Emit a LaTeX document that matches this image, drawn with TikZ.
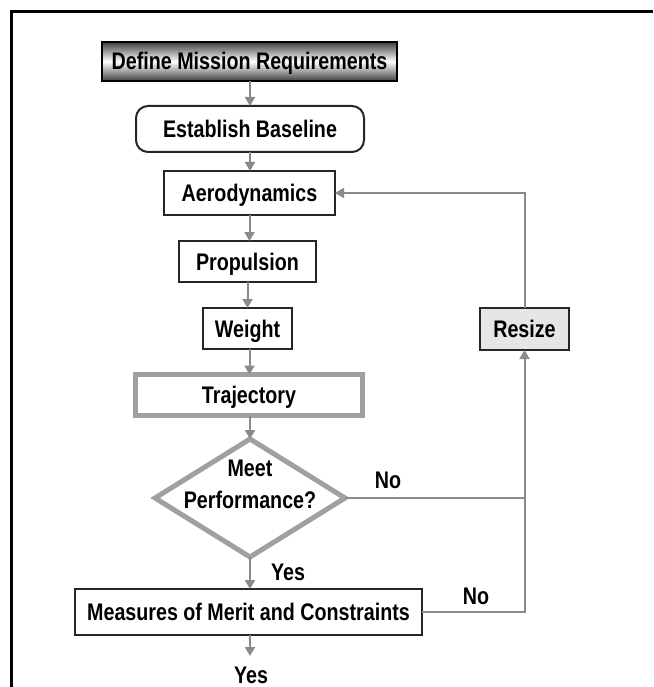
\documentclass[tikz,border=0pt]{standalone}
\usepackage{fontspec}
\setmainfont{Liberation Sans}[FakeStretch=0.82]
\usetikzlibrary{arrows.meta,shapes.geometric}
\definecolor{arrowgray}{HTML}{8A8A8A}
\definecolor{thickgray}{HTML}{A0A0A0}
\definecolor{resizefill}{HTML}{E6E6E6}
\begin{document}
\begin{tikzpicture}[x=1pt,y=-1pt,
  every node/.style={font=\fontsize{24pt}{28pt}\selectfont\bfseries, inner sep=0pt, outer sep=0pt},
  flowbox/.style={draw=black!85, line width=2pt, fill=white, text height=17pt, text depth=0pt},
  thickbox/.style={draw=thickgray, line width=5pt, fill=white, text height=17pt, text depth=0pt},
  decision/.style={diamond, draw=thickgray, line width=5pt, fill=white},
  flowarrow/.style={draw=arrowgray, line width=2pt, -{Triangle[width=10pt,length=9pt]}},
  flowline/.style={draw=arrowgray, line width=2pt},
  lbl/.style={anchor=base}
]
\useasboundingbox (0,0) rectangle (653,687);
% frame
\draw[line width=3pt, black] (11,687) -- (11,11.5) -- (653,11.5);

\node[flowbox, draw=black, top color=black!75, bottom color=black!75, middle color=white,
      minimum width=295pt, minimum height=39pt] (def) at (249.5,61.5) {Define Mission Requirements};
\node[flowbox, rounded corners=12pt, minimum width=228pt, minimum height=46pt] (est) at (250,129) {Establish Baseline};
\node[flowbox, minimum width=171pt, minimum height=44pt] (aero) at (249.5,193) {Aerodynamics};
\node[flowbox, minimum width=137pt, minimum height=41pt] (prop) at (247.5,261.5) {Propulsion};
\node[flowbox, minimum width=89pt, minimum height=41pt] (weight) at (247.5,328.5) {Weight};
\node[thickbox, minimum width=227pt, minimum height=41pt] (traj) at (249,395) {Trajectory};
\node[decision, minimum width=190pt, minimum height=118pt] (dia) at (250,498)
  {\smash{\makebox[0pt]{\raisebox{-10pt}{\begin{tabular}[b]{@{}c@{}}Meet\\[4pt]Performance?\end{tabular}}}}};
\node[flowbox, minimum width=347pt, minimum height=46pt] (meas) at (248.5,612) {Measures of Merit and Constraints};
\node[flowbox, fill=resizefill, minimum width=89pt, minimum height=42pt] (resize) at (524.5,329) {Resize};

\coordinate (endpt) at (250,656);

\draw[flowarrow] (def.south -| est.north) -- (est.north);
\draw[flowarrow] (est.south) -- (est.south |- aero.north);
\draw[flowarrow] (aero.south) -- (aero.south |- prop.north);
\draw[flowarrow] (prop.south) -- (weight.north);
\draw[flowarrow] (weight.south -| aero.south) -- (aero.south |- traj.north);
\draw[flowarrow] (traj.south -| dia.north) -- (dia.north);
\draw[flowarrow] (dia.south) -- (dia.south |- meas.north);
\draw[flowarrow] (meas.south -| endpt) -- (endpt);
\draw[flowline] (dia.east) -- (dia.east -| resize.south);
\draw[flowarrow] (meas.east) -| (resize.south);
\draw[flowarrow] (resize.north) |- (aero.east);

\node[lbl] (no1) at (388,488) {No};
\node[lbl] (no2) at (476,604) {No};
\node[lbl] (yes1) at (288,580) {Yes};
\node[lbl] (yes2) at (251,683) {Yes};
\end{tikzpicture}
\end{document}
